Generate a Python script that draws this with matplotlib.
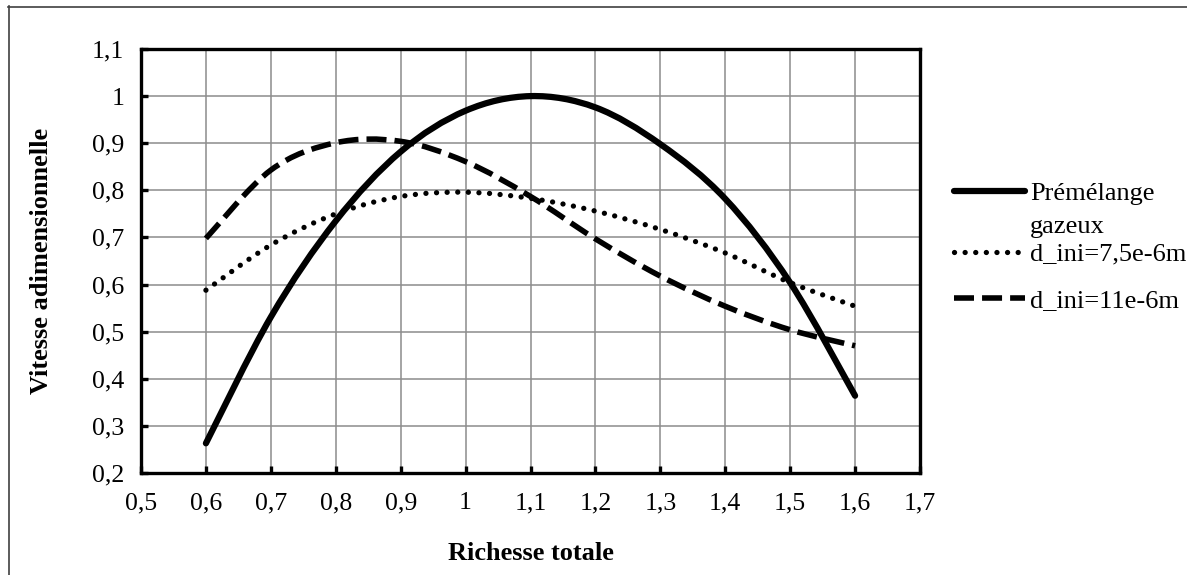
import matplotlib
matplotlib.use("Agg")
import matplotlib.pyplot as plt
from matplotlib.path import Path
from matplotlib.patches import PathPatch
from matplotlib.lines import Line2D
from matplotlib.ticker import FuncFormatter, MultipleLocator

plt.rcParams['font.family'] = ['Liberation Serif', 'DejaVu Serif']

# richesse totale (x) and the three series
richesse = [0.6, 0.7, 0.8, 0.9, 1.0, 1.1, 1.2, 1.3, 1.4, 1.5, 1.6]
premelange = [0.263, 0.531, 0.735, 0.882, 0.969, 1.0, 0.976, 0.898, 0.782, 0.604, 0.364]
d_75 = [0.588, 0.684, 0.750, 0.787, 0.796, 0.783, 0.756, 0.717, 0.667, 0.604, 0.554]
d_11 = [0.698, 0.843, 0.901, 0.904, 0.861, 0.787, 0.697, 0.618, 0.554, 0.504, 0.470]

labels = [['Prémélange', 'gazeux'], ['d_ini=7,5e-6m'], ['d_ini=11e-6m']]

W, H = 1187, 575


def smooth_path(xs, ys):
    # excel-like smoothed line: cubic bezier through every point
    pts = list(zip(xs, ys))
    n = len(pts)
    verts = [pts[0]]
    codes = [Path.MOVETO]
    for i in range(n - 1):
        p0 = pts[i - 1] if i > 0 else pts[i]
        p1 = pts[i]
        p2 = pts[i + 1]
        p3 = pts[i + 2] if i + 2 < n else pts[i + 1]
        c1 = (p1[0] + (p2[0] - p0[0]) / 6, p1[1] + (p2[1] - p0[1]) / 6)
        c2 = (p2[0] - (p3[0] - p1[0]) / 6, p2[1] - (p3[1] - p1[1]) / 6)
        verts += [c1, c2, p2]
        codes += [Path.CURVE4] * 3
    return Path(verts, codes)


fig = plt.figure(figsize=(W / 100, H / 100), dpi=100)
ax = fig.add_axes([141 / W, 1 - 473 / H, (920 - 141) / W, (473 - 49) / H])

styles = [
    dict(lw=4.5, ls='-', capstyle='round'),
    dict(lw=3.8, ls=(0, (0.01, 2.0)), capstyle='round'),
    dict(lw=4.0, ls=(0, (3.6, 1.45)), capstyle='butt'),
]

for ys, st in zip([premelange, d_75, d_11], styles):
    patch = PathPatch(smooth_path(richesse, ys), fill=False, edgecolor='black',
                      lw=st['lw'], ls=st['ls'], capstyle=st['capstyle'],
                      joinstyle='round', zorder=3)
    ax.add_patch(patch)

ax.set_xlim(0.5, 1.7)
ax.set_ylim(0.2, 1.1)
ax.xaxis.set_major_locator(MultipleLocator(0.1))
ax.yaxis.set_major_locator(MultipleLocator(0.1))

fmt = FuncFormatter(lambda v, p: ('%.1f' % v).rstrip('0').rstrip('.').replace('.', ','))
ax.xaxis.set_major_formatter(fmt)
ax.yaxis.set_major_formatter(fmt)

ax.grid(True, color='#8c8c8c', lw=1.1)
ax.set_axisbelow(True)
for s in ax.spines.values():
    s.set_linewidth(2.4)
    s.set_color('black')
ax.tick_params(direction='in', length=5, width=2.4, labelsize=18.5, pad=14)
ax.tick_params(axis='y', pad=12)

ax.set_xlabel('Richesse totale', fontsize=19, fontweight='bold', labelpad=20)
ax.set_ylabel('Vitesse adimensionnelle', fontsize=19, fontweight='bold', labelpad=28)

# legend drawn by hand so the handle sits on the first text line
leg_y = [190.7, 251.7, 298]
text_base = [200, 260.7, 307]
for st, ly, tb, lab in zip(styles, leg_y, text_base, labels):
    ln = Line2D([954 / W, 1025 / W], [1 - ly / H, 1 - ly / H], transform=fig.transFigure,
                color='black', lw=st['lw'], ls=st['ls'],
                solid_capstyle=st['capstyle'], dash_capstyle=st['capstyle'])
    fig.add_artist(ln)
    for k, line in enumerate(lab):
        fig.text(1030 / W, 1 - (tb + 33 * k) / H, line, fontsize=19,
                 va='baseline', ha='left')

# outer chart frame (cropped on right/bottom)
fig.add_artist(Line2D([8.5 / W, 8.5 / W], [0, 1 - 6 / H], transform=fig.transFigure,
                      color='#404040', lw=1.2))
fig.add_artist(Line2D([8 / W, 1], [1 - 6.5 / H, 1 - 6.5 / H], transform=fig.transFigure,
                      color='#404040', lw=1.2))

fig.savefig('out.png', dpi=100)
